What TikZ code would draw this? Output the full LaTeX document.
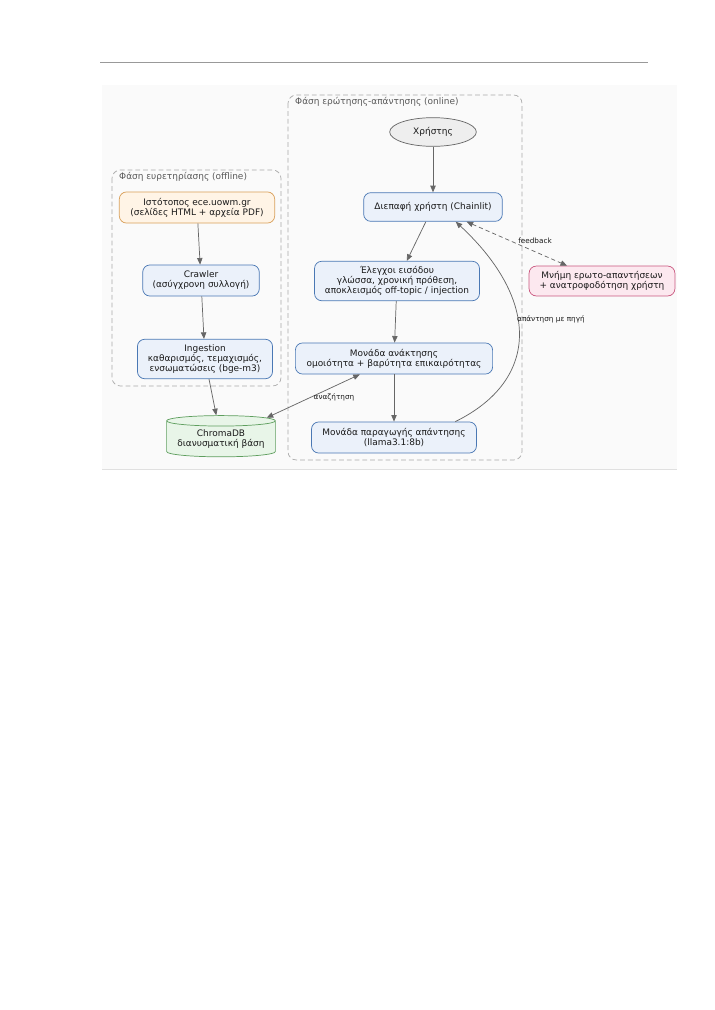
\documentclass[tikz,border=0pt]{standalone}
\usepackage{fontspec}
\setmainfont{DejaVu Sans}
\usepackage{xcolor}
\usetikzlibrary{shapes.geometric,arrows.meta}

\definecolor{bluefill}{HTML}{EBF1FA}
\definecolor{blueline}{HTML}{4A78B4}
\definecolor{orangefill}{HTML}{FFF4E6}
\definecolor{orangeline}{HTML}{D9A05B}
\definecolor{greenfill}{HTML}{E8F5E8}
\definecolor{greenline}{HTML}{5E9E5E}
\definecolor{pinkfill}{HTML}{FCE8EF}
\definecolor{pinkline}{HTML}{C9577F}
\definecolor{userfill}{HTML}{EEEEEE}
\definecolor{edgegray}{HTML}{666666}
\definecolor{clustergray}{HTML}{AAAAAA}
\definecolor{textdark}{HTML}{1A1A1A}
\newcommand{\nodefont}{\fontsize{7.5}{8.4}\selectfont}
\newcommand{\labelfont}{\fontsize{6.1}{7}\selectfont}

\begin{document}
\begin{tikzpicture}[x=0.02941cm, y=-0.02941cm,
  box/.style={draw=blueline, fill=bluefill, rounded corners=6pt, align=center,
    inner sep=0pt, line width=0.6pt, font=\nodefont, text=textdark},
  cluster/.style={draw=clustergray, rounded corners=7pt, line width=0.6pt,
    dash pattern=on 4pt off 2.5pt},
  clustertitle/.style={anchor=west, font=\nodefont, text=black!65},
  edgeline/.style={draw=edgegray, line width=0.6pt,
    -{Triangle[length=5.5pt,width=4.5pt]}},
  edgelabel/.style={font=\labelfont, text=textdark, inner sep=0pt}]
  \useasboundingbox (0,0) rectangle (714,1010);

  % page rule and figure background
  \draw[black!40, line width=0.6pt] (100,62) -- (648,62);
  \fill[black!2] (102,85) rectangle (677,469);
  \draw[black!12, line width=0.5pt] (102,469) -- (677,469);

  % the two phases
  \draw[cluster] (112,170) rectangle (281,386);
  \node[clustertitle] (offtitle) at (115,177) {Φάση ευρετηρίασης (offline)};
  \draw[cluster] (288,95) rectangle (522,460);
  \node[clustertitle] (ontitle) at (291,102) {Φάση ερώτησης-απάντησης (online)};

  % offline nodes
  \node[box, draw=orangeline, fill=orangefill, minimum width=130pt, minimum height=26pt]
    (site) at (197,207.5) {Ιστότοπος ece.uowm.gr\\(σελίδες HTML + αρχεία PDF)};
  \node[box, minimum width=97.5pt, minimum height=26pt]
    (crawler) at (201,280.5) {Crawler\\(ασύγχρονη συλλογή)};
  \node[box, minimum width=113pt, minimum height=33pt]
    (ingest) at (205,359) {Ingestion\\καθαρισμός, τεμαχισμός,\\ενσωματώσεις (bge-m3)};
  \node[cylinder, shape border rotate=90, aspect=0.12, draw=greenline, fill=greenfill,
    line width=0.6pt, minimum width=91pt, minimum height=34.5pt, inner sep=0pt,
    align=center, font=\nodefont, text=textdark]
    (chroma) at (221,439) {ChromaDB\\διανυσματική βάση};

  % online nodes
  \node[ellipse, draw=edgegray, fill=userfill, line width=0.6pt, minimum width=72.5pt,
    minimum height=24pt, inner sep=0pt, font=\nodefont, text=textdark]
    (user) at (433,132) {Χρήστης};
  \node[box, minimum width=116pt, minimum height=24pt]
    (ui) at (433,207) {Διεπαφή χρήστη (Chainlit)};
  \node[box, minimum width=138pt, minimum height=33pt]
    (guard) at (397,281) {Έλεγχοι εισόδου\\γλώσσα, χρονική πρόθεση,\\αποκλεισμός off-topic / injection};
  \node[box, minimum width=165pt, minimum height=26pt]
    (retr) at (394,358.5) {Μονάδα ανάκτησης\\ομοιότητα + βαρύτητα επικαιρότητας};
  \node[box, minimum width=138pt, minimum height=26pt]
    (gen) at (394,437.5) {Μονάδα παραγωγής απάντησης\\(llama3.1:8b)};
  \node[box, draw=pinkline, fill=pinkfill, minimum width=122pt, minimum height=25pt]
    (memory) at (602,281) {Μνήμη ερωτο-απαντήσεων\\+ ανατροφοδότηση χρήστη};

  % connectors
  \draw[edgeline] (site) -- (crawler);
  \draw[edgeline] (crawler) -- (ingest);
  \draw[edgeline] (ingest) -- (chroma);
  \draw[edgeline] (user) -- (ui);
  \draw[edgeline] (ui) -- (guard);
  \draw[edgeline] (guard) -- (retr);
  \draw[edgeline] (retr) -- (gen);
  \draw[edgeline, {Triangle[length=5.5pt,width=4.5pt]}-{Triangle[length=5.5pt,width=4.5pt]}]
    (chroma) -- (retr);
  \draw[edgeline, dash pattern=on 3.5pt off 2.5pt,
    {Triangle[length=5.5pt,width=4.5pt]}-{Triangle[length=5.5pt,width=4.5pt]}]
    (ui) -- (memory);
  \draw[edgeline] ([xshift=-18pt]gen.north east) .. controls (540,380) and (540,300)
    .. ([xshift=19pt]ui.south);

  % connector labels
  \node[edgelabel] (lblsearch) at (334,397) {αναζήτηση};
  \node[edgelabel] (lblfeedback) at (535,241) {feedback};
  \node[edgelabel, anchor=west] (lblanswer) at (517,319) {απάντηση με πηγή};
\end{tikzpicture}
\end{document}
